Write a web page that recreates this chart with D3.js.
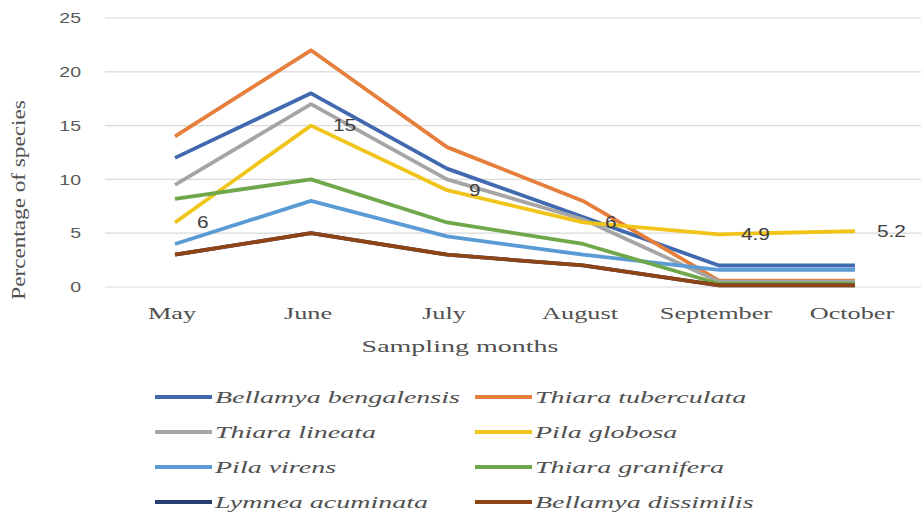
<!DOCTYPE html>
<html><head><meta charset="utf-8">
<script src="https://cdn.jsdelivr.net/npm/d3@7"></script>
<style>body{margin:0;background:#fff}svg{display:block}</style>
</head><body>
<svg id="c" width="921" height="517"></svg>
<script>
const months = ["May","June","July","August","September","October"];
const yTicks = [0,5,10,15,20,25];
const seriesNames = ["Bellamya bengalensis","Thiara tuberculata","Thiara lineata","Pila globosa","Pila virens","Thiara granifera","Lymnea acuminata","Bellamya dissimilis"];
const colors = ["#4169b0","#e67f3c","#a5a5a5","#f0c419","#5b9bd5","#6fa84a","#263f6e","#8f4416"];
const bengalensis = [12,18,11,6.5,2,2];
const tuberculata = [14,22,13,8,0.6,0.6];
const lineata = [9.5,17,10,6.3,0.5,0.5];
const globosa = [6,15,9,6,4.9,5.2];
const virens = [4,8,4.7,3,1.6,1.6];
const granifera = [8.2,10,6,4,0.3,0.3];
const acuminata = [3,5,3,2,0.15,0.15];
const dissimilis = [3,5,3,2,0.15,0.15];
const values = [bengalensis,tuberculata,lineata,globosa,virens,granifera,acuminata,dissimilis];
const labelled = [false,false,false,true,false,false,false,false];

const svg = d3.select("#c");
function widen(sel, s){ sel.each(function(){ const w=this.getComputedTextLength(); d3.select(this).attr("textLength", w*s).attr("lengthAdjust","spacingAndGlyphs"); }); }

const x = d3.scalePoint().domain(months).range([175,855]);
const y = d3.scaleLinear().domain([0,25]).range([287,18]);
const serif = "Liberation Serif, Times New Roman, serif";
const sans = "Liberation Sans, Arial, sans-serif";

// gridlines
svg.append("g").selectAll("line").data(yTicks).join("line")
  .attr("x1",105).attr("x2",921).attr("y1",d=>y(d)).attr("y2",d=>y(d))
  .attr("stroke","#d9d9d9").attr("stroke-width",1.2);

// y tick labels
svg.append("g").selectAll("text").data(yTicks).join("text")
  .attr("x",81).attr("y",d=>y(d)).attr("dy","0.35em").attr("text-anchor","end")
  .attr("font-family",sans).attr("font-size",15).attr("fill","#595959")
  .text(d=>d).call(widen,1.3);

// x labels
svg.append("g").selectAll("text").data(months).join("text")
  .attr("x",d=>x(d)-3).attr("y",319).attr("text-anchor","middle")
  .attr("font-family",serif).attr("font-size",17.5).attr("fill","#505050")
  .text(d=>d).call(widen,1.5);

svg.append("text").attr("x",460).attr("y",352).attr("text-anchor","middle")
  .attr("font-family",serif).attr("font-size",17.5).attr("fill","#505050")
  .text("Sampling months").call(widen,1.6);

svg.append("text").attr("transform","translate(25,200) rotate(-90)").attr("text-anchor","middle")
  .attr("font-family",serif).attr("font-size",19).attr("fill","#505050")
  .text("Percentage of species").call(widen,1.22);

// lines
const line = d3.line().x((d,i)=>x(months[i])).y(d=>y(d));
svg.append("g").selectAll("path").data(values).join("path")
  .attr("d",d=>line(d)).attr("fill","none")
  .attr("stroke",(d,i)=>colors[i]).attr("stroke-width",3.8)
  .attr("stroke-linejoin","round").attr("stroke-linecap","butt");

// data labels
values.forEach((vals,si)=>{
  if(!labelled[si]) return;
  svg.append("g").selectAll("text").data(vals).join("text")
    .attr("x",(d,i)=>x(months[i])+22).attr("y",d=>y(d)).attr("dy","0.35em")
    .attr("font-family",sans).attr("font-size",16).attr("fill","#404040")
    .text(d=>d).call(widen,1.3);
});

// legend
const leg = svg.append("g");
seriesNames.forEach((n,i)=>{
  const col = i%2, row = Math.floor(i/2);
  const lx = col===0?155:475, ly = 397 + row*35;
  leg.append("line").attr("x1",lx).attr("x2",lx+57).attr("y1",ly).attr("y2",ly)
    .attr("stroke",colors[i]).attr("stroke-width",3.8);
  leg.append("text").attr("x",lx+60).attr("y",ly).attr("dy","0.35em")
    .attr("font-family",serif).attr("font-style","italic").attr("font-size",17.5).attr("fill","#505050")
    .text(n).call(widen,1.6);
});
</script>
</body></html>
